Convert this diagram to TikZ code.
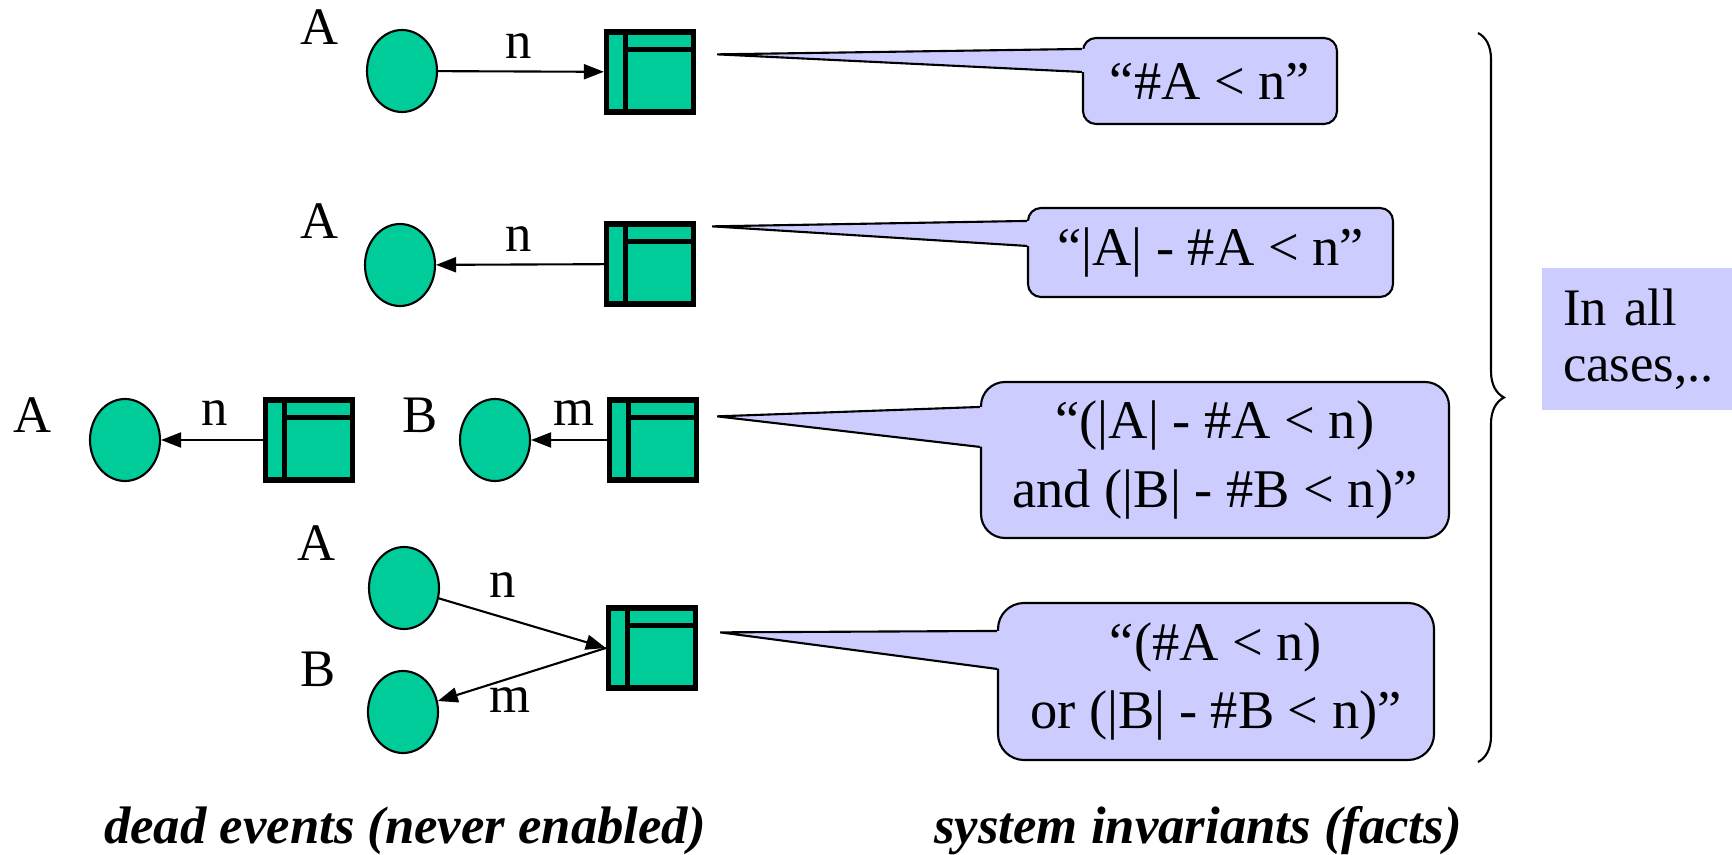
\documentclass[tikz,border=0pt]{standalone}
\usepackage{fontspec}
\setmainfont{Liberation Serif}
\usepackage{tikz}
\usetikzlibrary{positioning,arrows.meta,calc,shapes.geometric,decorations.pathreplacing}
\definecolor{tealgreen}{HTML}{00CC99}
\definecolor{lavender}{HTML}{CCCCFF}
\tikzstyle{arrow} = [line width=0.6pt,-{Triangle[length=0.2cm,width=0.15cm]}]

\begin{document}
\begin{tikzpicture}[
        event/.style={
            ellipse,
            draw=black,
            fill=tealgreen,
            line width=0.6pt,
            inner sep=0pt,
            minimum width=0.70cm,
            minimum height=0.82cm
        },
        store/.style={
            rectangle,
            draw=black,
            fill=tealgreen,
            line width=1.5pt,
            minimum width=0.87cm,
            minimum height=0.80cm,
            path picture={
                \draw[line width=1.5pt]
                    ([xshift=0.19cm]path picture bounding box.north west) --
                    ([xshift=0.19cm]path picture bounding box.south west);
                \draw[line width=1.5pt]
                    ([xshift=0.19cm,yshift=-0.175cm]path picture bounding box.north west) --
                    ([yshift=-0.175cm]path picture bounding box.north east);
            }
        },
        fact/.style={
            rectangle,
            rounded corners=0.13cm,
            draw=black,
            fill=lavender,
            line width=0.6pt,
            align=center,
            font=\fontsize{15.5}{19.5}\selectfont
        },
        wedge/.style={fill=lavender},
        rim/.style={line width=0.6pt},
        lbl/.style={inner sep=0pt,font=\fontsize{15}{18}\selectfont},
        caption/.style={inner sep=0pt,font=\fontsize{15}{18}\selectfont\bfseries\itshape}
    ]

    \useasboundingbox (0,0) rectangle (17.32,-8.55);

    % first case: A feeds the store
    \node[event] (eventA1) at (4.02,-0.71) {};
    \node[store] (store1) at (6.50,-0.72) {};
    \node[lbl] (labelA1) at (3.20,-0.27) {A};
    \node[lbl] (labelN1) at (5.19,-0.46) {n};
    \draw[arrow] (eventA1) -- (store1);

    % second case: the store feeds A
    \node[event] (eventA2) at (4.00,-2.65) {};
    \node[store] (store2) at (6.50,-2.64) {};
    \node[lbl] (labelA2) at (3.20,-2.21) {A};
    \node[lbl] (labelN2) at (5.19,-2.39) {n};
    \draw[arrow] (store2) -- (eventA2);

    % third case: two stores
    \node[event] (eventA3) at (1.25,-4.40) {};
    \node[store] (store3a) at (3.09,-4.40) {};
    \node[lbl] (labelA3) at (0.33,-4.15) {A};
    \node[lbl] (labelN3) at (2.15,-4.13) {n};
    \draw[arrow] (store3a) -- (eventA3);

    \node[event] (eventB3) at (4.95,-4.40) {};
    \node[store] (store3b) at (6.53,-4.40) {};
    \node[lbl] (labelB3) at (4.20,-4.15) {B};
    \node[lbl] (labelM3) at (5.74,-4.13) {m};
    \draw[arrow] (store3b) -- (eventB3);

    % fourth case: one store between A and B
    \node[event] (eventA4) at (4.04,-5.88) {};
    \node[event] (eventB4) at (4.03,-7.12) {};
    \node[store] (store4) at (6.52,-6.48) {};
    \node[lbl] (labelA4) at (3.17,-5.43) {A};
    \node[lbl] (labelB4) at (3.18,-6.69) {B};
    \node[lbl] (labelN4) at (5.03,-5.85) {n};
    \node[lbl] (labelM4) at (5.10,-7.00) {m};
    \draw[arrow] (eventA4) -- (store4.west);
    \draw[arrow] (store4.west) -- (eventB4);

    % invariants
    \node[fact, minimum width=2.54cm, minimum height=0.86cm] (fact1)
        at (12.10,-0.81) {“\#A < n”};
    \node[fact, minimum width=3.65cm, minimum height=0.89cm] (fact2)
        at (12.105,-2.525) {“|A| - \#A < n”};
    \node[fact, rounded corners=0.24cm, minimum width=4.68cm, minimum height=1.56cm] (fact3)
        at (12.15,-4.60) {“(|A| - \#A < n)\\and (|B| - \#B < n)”};
    \node[fact, rounded corners=0.26cm, minimum width=4.36cm, minimum height=1.57cm] (fact4)
        at (12.16,-6.815) {“(\#A < n)\\or (|B| - \#B < n)”};

    \coordinate (tip1) at ($(store1.north east)+(0.21,-0.25)$);
    \coordinate (tip2) at ($(store2.north east)+(0.16,-0.05)$);
    \coordinate (tip3) at ($(store3b.north east)+(0.18,-0.19)$);
    \coordinate (tip4) at ($(store4.north east)+(0.22,-0.27)$);

    \fill[wedge] (tip1) -- ($(fact1.north west)+(0.04,-0.12)$) -- ($(fact1.north west)+(0.04,-0.35)$) -- cycle;
    \draw[rim] ($(fact1.north west)+(0,-0.12)$) -- (tip1) -- ($(fact1.north west)+(0,-0.35)$);
    \fill[wedge] (tip2) -- ($(fact2.north west)+(0.04,-0.14)$) -- ($(fact2.north west)+(0.04,-0.39)$) -- cycle;
    \draw[rim] ($(fact2.north west)+(0,-0.14)$) -- (tip2) -- ($(fact2.north west)+(0,-0.39)$);
    \fill[wedge] (tip3) -- ($(fact3.north west)+(0.04,-0.26)$) -- ($(fact3.north west)+(0.04,-0.66)$) -- cycle;
    \draw[rim] ($(fact3.north west)+(0,-0.26)$) -- (tip3) -- ($(fact3.north west)+(0,-0.66)$);
    \fill[wedge] (tip4) -- ($(fact4.north west)+(0.04,-0.29)$) -- ($(fact4.north west)+(0.04,-0.67)$) -- cycle;
    \draw[rim] ($(fact4.north west)+(0,-0.29)$) -- (tip4) -- ($(fact4.north west)+(0,-0.67)$);

    % brace and summary
    \coordinate (braceTop) at (14.78,-0.33);
    \coordinate (braceBottom) at (14.78,-7.62);
    \draw[rim, decorate, decoration={brace, amplitude=0.26cm}] (braceTop) -- (braceBottom);

    \node[rectangle, fill=lavender, minimum width=1.90cm, minimum height=1.42cm,
          inner xsep=0.21cm, text width=1.48cm, align=left,
          font=\fontsize{15}{16}\selectfont] (cases)
        at (16.37,-3.39) {In all\\cases,..};

    % captions
    \node[caption] (deadCaption) at (4.05,-8.31) {dead events (never enabled)};
    \node[caption] (factCaption) at (11.98,-8.31) {system invariants (facts)};

\end{tikzpicture}
\end{document}
